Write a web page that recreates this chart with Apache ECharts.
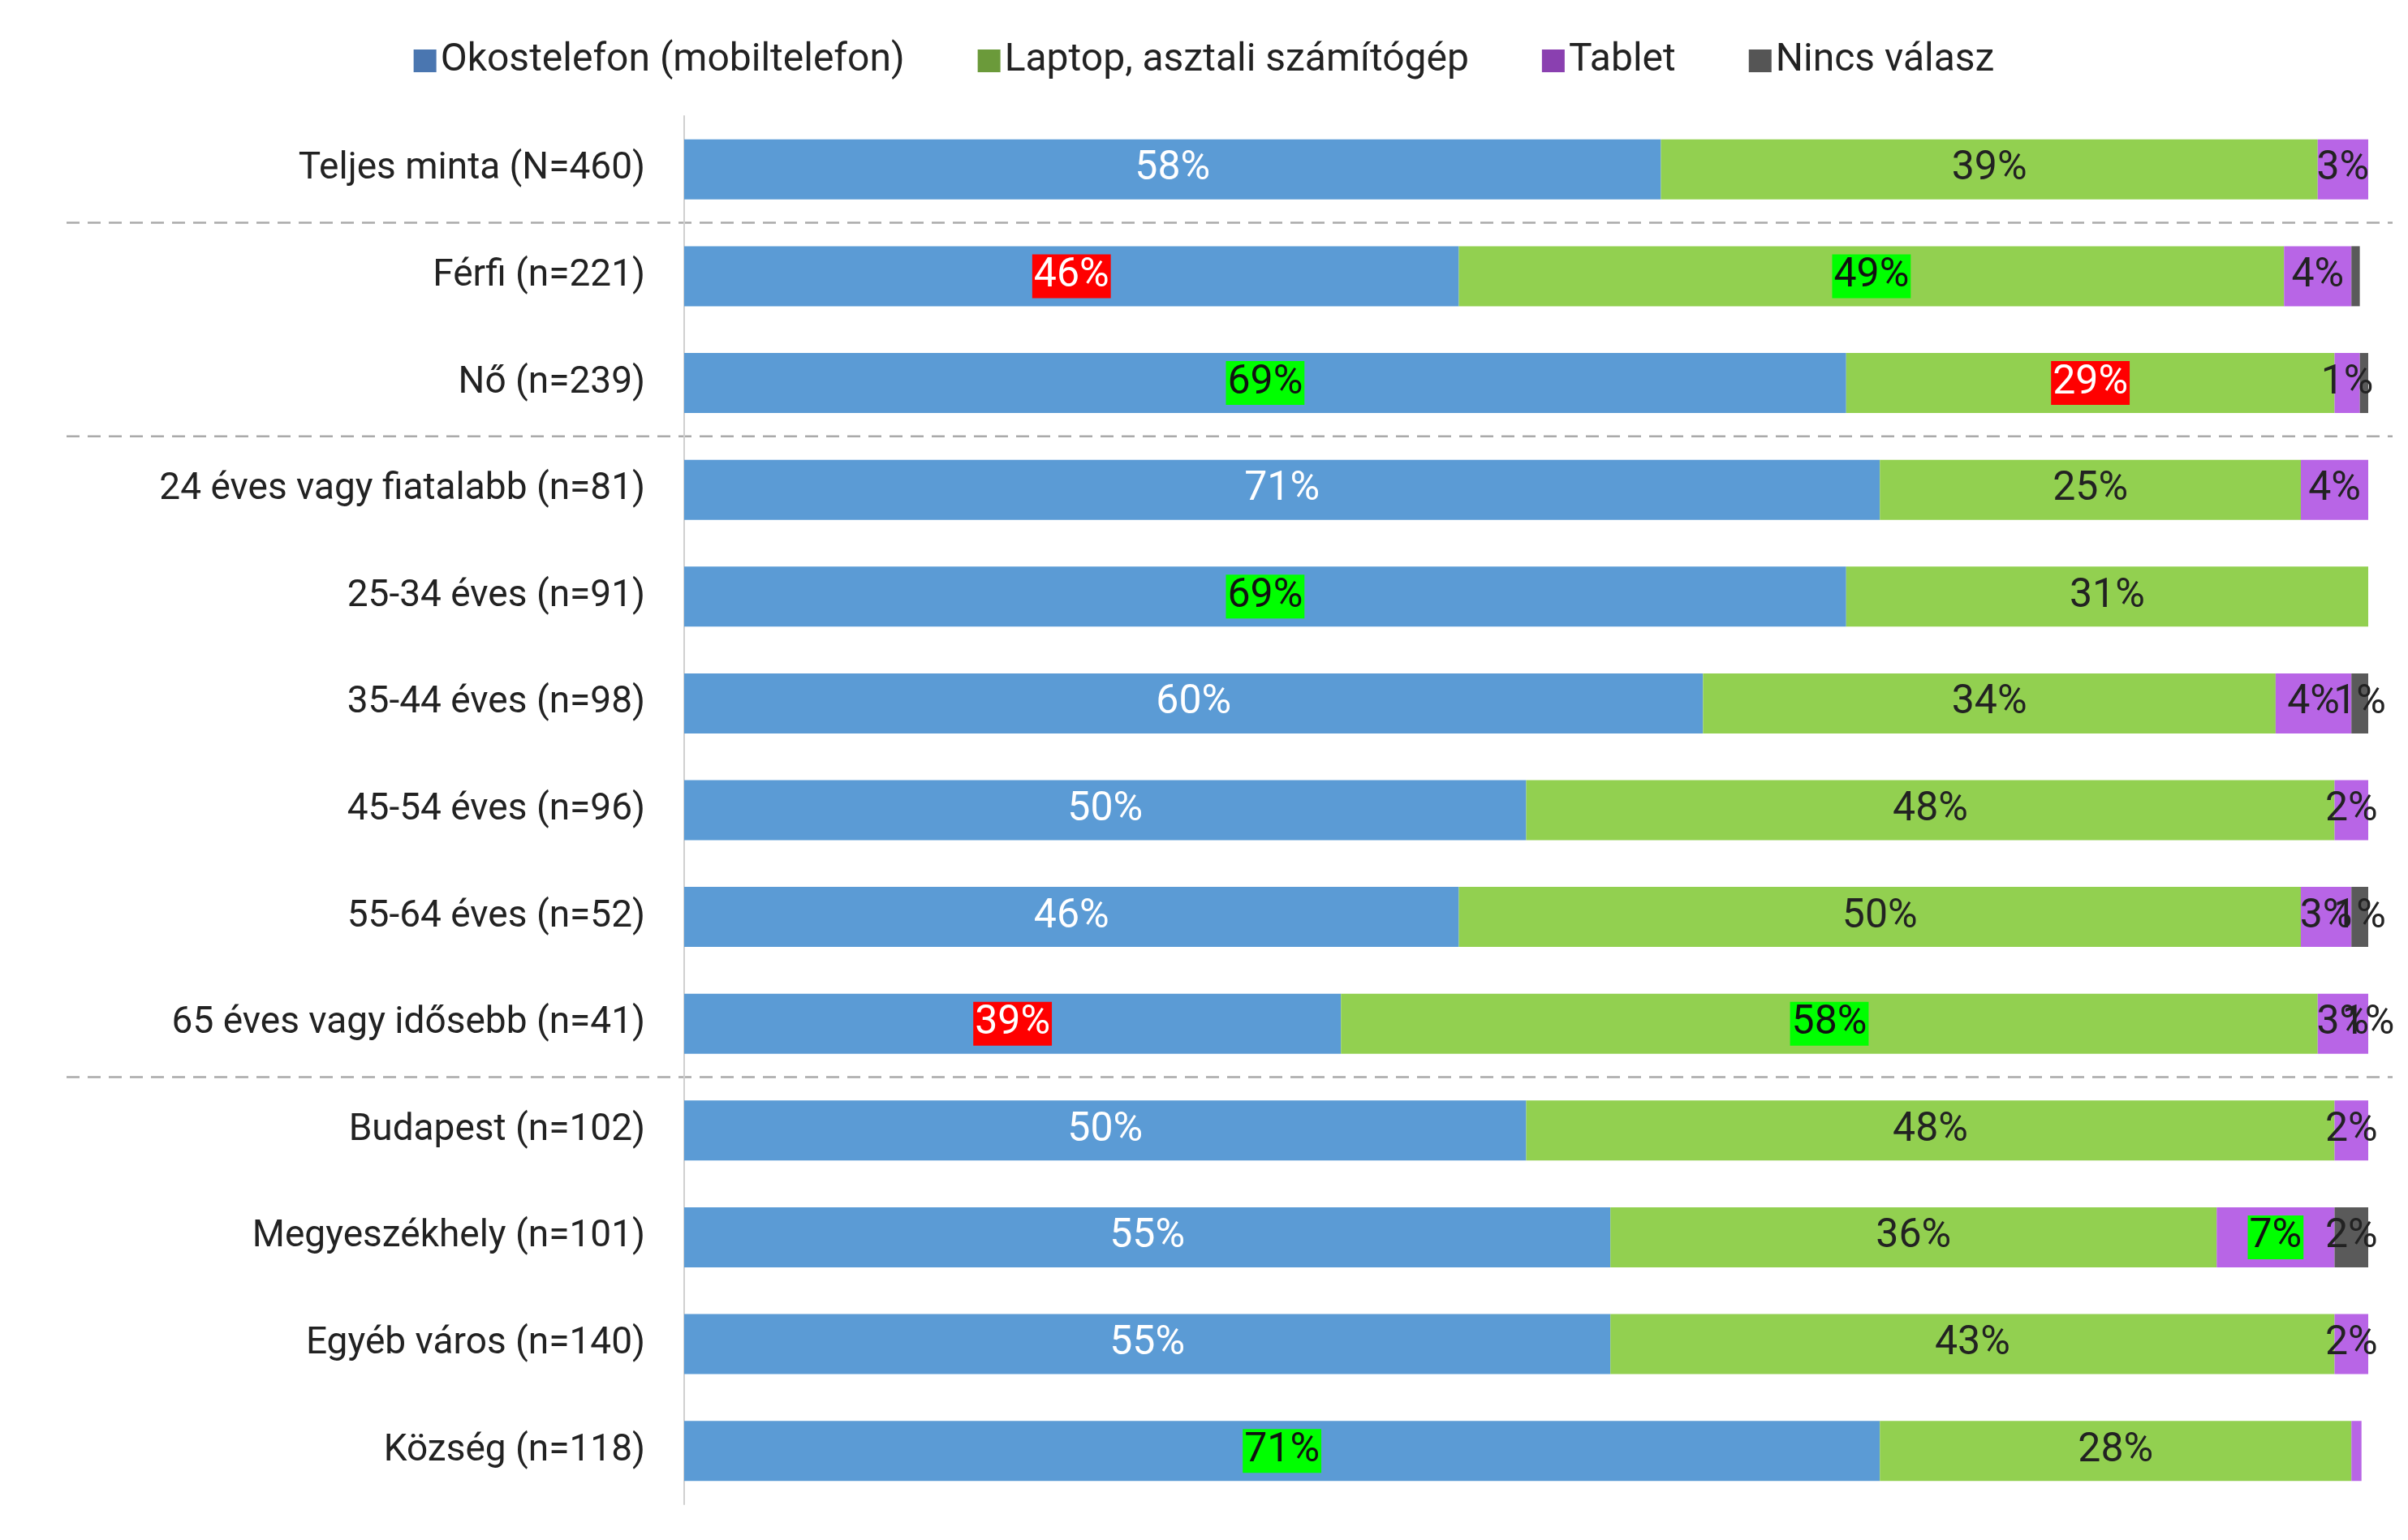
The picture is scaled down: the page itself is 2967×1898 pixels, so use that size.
<!DOCTYPE html>
<html><head><meta charset="utf-8">
<script src="https://cdn.jsdelivr.net/npm/echarts@6/dist/echarts.min.js"></script>
<style>html,body{margin:0;padding:0;background:#fff}#c{width:2967px;height:1898px}</style>
</head><body><div id="c"></div>
<script>
const categories = ["Teljes minta (N=460)","Férfi (n=221)","Nő (n=239)","24 éves vagy fiatalabb (n=81)","25-34 éves (n=91)","35-44 éves (n=98)","45-54 éves (n=96)","55-64 éves (n=52)","65 éves vagy idősebb (n=41)","Budapest (n=102)","Megyeszékhely (n=101)","Egyéb város (n=140)","Község (n=118)"];
const seriesNames = ["Okostelefon (mobiltelefon)","Laptop, asztali számítógép","Tablet","Nincs válasz"];
const smartphone = [58,46,69,71,69,60.5,50,46,39,50,55,55,71];
const laptop = [39,49,29,25,31,34,48,50,58,48,36,43,28];
const tablet = [3,4,1.5,4,0,4.5,2.5,3,3,2,7,2,0.6];
const noAnswer = [0.5,0.5,0.5,0,0,1,0,1,1,0,2,0,0];
// highlight: 'r' red, 'g' green, '' none
const hlSmart = ['','r','g','','g','','','','r','','','','g'];
const hlLaptop = ['','g','r','','','','','','g','','','',''];
const hlTablet = ['','','','','','','','','','','g','',''];
const hlNo = ['','','','','','','','','','','','',''];
const separatorsAfter = [0,2,8];

const fills = ['#5b9bd5','#92d050','#b865e6','#5a5a5a'];
const legendCols = ['#4a76b0','#6b9a3a','#8a40b0','#555555'];
const baseLabelCol = ['#ffffff','#222222','#222222','#222222'];
const F = 'Roboto, "Noto Sans", sans-serif';
function mk(i, vals, hl){
  return {
    name: seriesNames[i], type:'bar', stack:'s', barWidth: 74,
    itemStyle:{color: fills[i]},
    data: vals.map((v,k)=>{
      const d={value:v};
      if(hl[k]){
        d.label={backgroundColor: hl[k]==='r'?'#ff0000':'#00ff00', color: hl[k]==='r'?'#fff':'#111', padding:[4,2,0,2]};
      }
      return d;
    }),
    label:{show:true, position:'inside', fontFamily:F, fontSize:50, color: baseLabelCol[i],
      formatter: p => p.value>=1 ? Math.floor(p.value)+'%' : ''}
  };
}
const chart = echarts.init(document.getElementById('c'));
chart.setOption({
  animation:false,
  legend:{top:46, left:'center', itemWidth:28, itemHeight:28, itemGap:90, icon:'rect',
    textStyle:{fontFamily:F, fontSize:48, color:'#222'},
    data: seriesNames.map((n,i)=>({name:n, itemStyle:{color:legendCols[i]}}))},
  grid:{left:843, right:49, top:143, bottom:44, containLabel:false},
  xAxis:{type:'value', min:0, max:100, show:false},
  yAxis:{type:'category', data:categories, inverse:true,
    axisLine:{show:true, lineStyle:{color:'#d0d0d0', width:2}}, axisTick:{show:false},
    axisLabel:{fontFamily:F, fontSize:46, color:'#222', margin:48}},
  series:[mk(0,smartphone,hlSmart), mk(1,laptop,hlLaptop), mk(2,tablet,hlTablet), mk(3,noAnswer,hlNo)]
});
const g=[];
separatorsAfter.forEach(k=>{
  const y=(chart.convertToPixel({yAxisIndex:0},k)+chart.convertToPixel({yAxisIndex:0},k+1))/2;
  g.push({type:'line', shape:{x1:82,y1:y,x2:2948,y2:y}, style:{stroke:'#aaaaaa', lineWidth:2.5, lineDash:[16,10]}});
});
chart.setOption({graphic:g});
</script></body></html>
